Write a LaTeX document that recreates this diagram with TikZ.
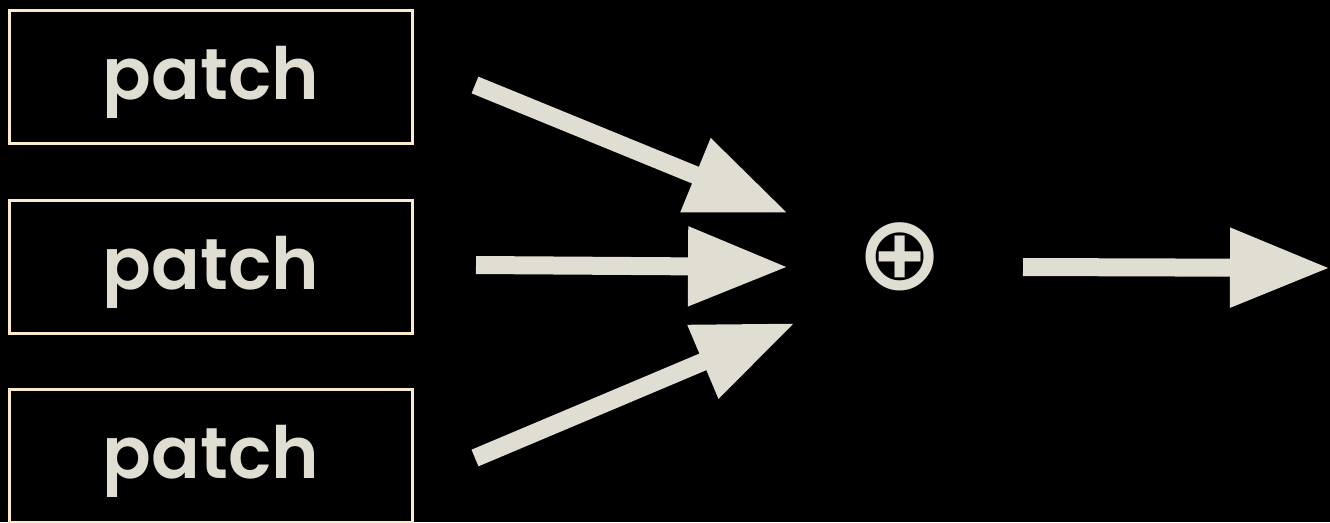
\documentclass[tikz,border=0pt]{standalone}
\usepackage{fontspec}
\setmainfont{Poppins}
\newfontfamily\patchfont{Poppins SemiBold}
\newfontfamily\symfont{DejaVu Sans}
\usetikzlibrary{arrows.meta}
\definecolor{bgc}{HTML}{000000}
\definecolor{fgc}{HTML}{E0DDD2}
\definecolor{boxc}{HTML}{FCEBCB}
\begin{document}
\begin{tikzpicture}[x=1pt,y=-1pt,
  patchbox/.style={draw=boxc,line width=3pt,minimum width=403pt,minimum height=133pt,inner sep=0pt},
  patchtext/.style={anchor=base,inner sep=0pt,text=fgc,font=\patchfont\fontsize{72}{80}\selectfont},
  bigarrow/.style={draw=fgc,fill=fgc,line width=18pt,-{Triangle[length=100pt,width=75pt]}}]
\fill[bgc] (0,0) rectangle (1330,522);
\useasboundingbox (0,0) rectangle (1330,522);
\node[patchbox] (p1) at (211,76.5) {};
\node[patchbox] (p2) at (211,266.5) {};
\node[patchbox] (p3) at (211,455.5) {};
\node[patchtext] (t1) at ([yshift=-22.5pt]p1.center) {patch};
\node[patchtext] (t2) at ([yshift=-22.5pt]p2.center) {patch};
\node[patchtext] (t3) at ([yshift=-22.5pt]p3.center) {patch};
\node[text=fgc,font=\symfont\bfseries\fontsize{104}{104}\selectfont,inner sep=0pt] (sum) at (900,257) {⊕};
\coordinate (s1) at (475,85);
\coordinate (e1) at (788,213);
\coordinate (s2) at (476,265);
\coordinate (e2) at (788,267);
\coordinate (s3) at (475,458);
\coordinate (e3) at (795,323);
\coordinate (s4) at (1023,267);
\coordinate (e4) at (1330,268);
\draw[bigarrow] (s1) -- (e1);
\draw[bigarrow] (s2) -- (e2);
\draw[bigarrow] (s3) -- (e3);
\draw[bigarrow] (s4) -- (e4);
\end{tikzpicture}
\end{document}
